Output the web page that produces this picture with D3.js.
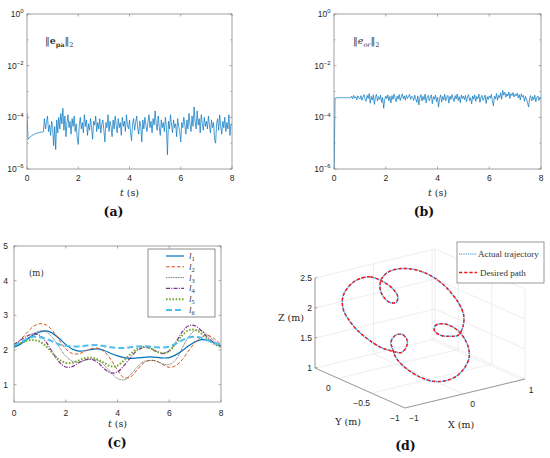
<!DOCTYPE html>
<html><head><meta charset="utf-8">
<script src="https://cdn.jsdelivr.net/npm/d3@7"></script>
<style>body{margin:0;background:#fff}svg{display:block}</style>
</head><body>
<svg id="fig" width="550" height="458"></svg>
<script>
// ================= DATA =================
// (a),(b): error norms, sampled every 0.04 s from 0 to 8 s (values are log10 of the norm)
const sampleStep = 0.04;
const epaLog10 = [
-3.85,-4.85,-4.80,-4.76,-4.73,-4.70,-4.68,-4.66,-4.64,-4.62,-4.61,-4.60,-4.59,-4.58,-4.57,-4.57,-4.56,
-4.05,-4.45,-4.20,-3.95,-4.55,-4.30,-4.70,-4.15,-4.40,
-5.10,-4.35,-5.25,-4.10,-4.60,-4.00,-4.45,-3.85,-4.25,-3.65,-4.50,-3.95,-4.75,-4.20,-3.90,-4.40,-4.15,-4.65,-4.05,-4.35,-3.95,-4.55,-4.25,-4.80,-5.05,
-4.30,-4.00,-4.45,-4.20,-4.60,-3.90,-4.35,-4.10,-4.70,-4.25,-4.50,-4.05,-4.40,-4.85,-4.15,-4.30,-3.95,-4.55,-4.20,-4.45,-4.05,-4.60,-4.25,-4.10,-4.50,
-4.95,-4.20,-4.40,-3.90,-4.55,-4.15,-4.35,-4.75,-4.10,-4.45,-3.95,-4.30,-4.60,-4.05,-4.40,-4.20,-4.70,-4.00,-4.35,-4.15,-4.55,-3.90,-4.30,-4.45,-4.10,
-4.60,-4.90,-4.25,-4.05,-4.50,-4.20,-3.95,-4.40,-4.65,-4.15,-4.35,-4.95,-4.10,-4.45,-4.00,-4.30,-4.55,-4.20,-3.90,-4.40,-4.15,-4.60,-4.05,-4.30,-3.75,
-4.25,-4.50,-3.95,-4.35,-4.70,-4.10,-4.40,-4.20,-4.55,-4.00,-4.35,-5.45,-4.15,-4.45,-3.90,-4.30,-4.60,-4.10,-4.40,-4.25,-4.75,-4.05,-4.35,-4.55,-4.95,
-4.20,-4.40,-4.00,-4.30,-4.65,-4.10,-4.45,-3.85,-4.25,-4.55,-3.95,-4.35,-3.60,-4.15,-4.45,-3.75,-4.30,-4.05,-4.60,-3.90,-4.25,-4.50,-4.00,-4.35,-4.15,
-4.45,-3.95,-4.30,-4.60,-4.10,-4.40,-4.20,-4.85,-5.00,-4.25,-4.05,-4.50,-3.90,-4.35,-4.65,-4.15,-4.40,-4.00,-4.55,-4.20,-4.45,-3.90,-4.70,-4.25,-4.30
];
const eorLog10 = [
-6.50,-3.26,-3.25,-3.25,-3.24,-3.24,-3.24,-3.24,-3.24,-3.24,-3.24,-3.24,-3.24,-3.24,-3.24,-3.24,-3.24,
-3.18,-3.28,-3.15,-3.26,-3.20,-3.32,-3.17,-3.25,-3.29,
-3.16,-3.34,-3.21,-3.12,-3.30,-3.38,-3.15,-3.27,-3.08,-3.45,-3.19,-3.33,-3.13,-3.50,-3.22,-3.11,-3.37,-3.20,-3.31,-3.14,-3.42,-3.24,-3.65,-3.30,-3.17,
-3.28,-3.13,-3.36,-3.19,-3.44,-3.16,-3.31,-3.10,-3.26,-3.40,-3.18,-3.30,-3.12,-3.35,-3.21,-3.09,-3.29,-3.17,-3.34,-3.14,-3.27,-3.20,-3.11,-3.31,-3.18,
-3.22,-3.35,-3.14,-3.28,-3.42,-3.17,-3.52,-3.25,-3.12,-3.37,-3.19,-3.32,-3.10,-3.44,-3.21,-3.15,-3.36,-3.23,-3.13,-3.47,-3.20,-3.30,-3.14,-3.39,-3.22,
-3.60,-3.27,-3.13,-3.41,-3.19,-3.33,-3.11,-3.36,-3.22,-3.15,-3.45,-3.18,-3.31,-3.12,-3.26,-3.39,-3.16,-3.29,-3.10,-3.35,-3.20,-3.43,-3.14,-3.27,-3.18,
-3.32,-3.15,-3.40,-3.21,-3.12,-3.36,-3.24,-3.48,-3.17,-3.30,-3.13,-3.38,-3.19,-3.28,-3.10,-3.42,-3.22,-3.15,-3.34,-3.25,-3.14,-3.46,-3.20,-3.31,-3.17,
-3.26,-3.12,-3.37,-3.55,-3.18,-3.29,-3.08,-3.34,-3.15,-3.24,-3.05,-3.30,-2.96,-3.14,-3.03,-3.22,-3.09,-3.18,-3.02,-3.27,-3.08,-3.16,-3.04,-3.21,-3.11,
-3.17,-3.06,-3.25,-3.12,-3.33,-3.09,-3.21,-3.15,-3.38,-3.19,-3.29,-3.44,-3.60,-3.26,-3.16,-3.37,-3.20,-3.32,-3.14,-3.40,-3.23,-3.17,-3.35,-3.22,-3.30
];
const logTickExps = [0, -2, -4, -6];
const timeTicks = [0, 2, 4, 6, 8];

// (c): cable lengths (m), sampled every 0.25 s
const cableTime = [0,0.25,0.5,0.75,1,1.25,1.5,1.75,2,2.25,2.5,2.75,3,3.25,3.5,3.75,4,4.25,4.5,4.75,5,5.25,5.5,5.75,6,6.25,6.5,6.75,7,7.25,7.5,7.75,8];
const l1 = [2.08,2.17,2.30,2.43,2.52,2.55,2.48,2.33,2.16,2.03,1.97,1.98,2.02,2.03,1.98,1.90,1.83,1.78,1.76,1.77,1.79,1.80,1.79,1.77,1.78,1.86,1.98,2.12,2.24,2.30,2.28,2.20,2.12];
const l2 = [2.13,2.30,2.50,2.68,2.76,2.72,2.55,2.28,2.03,1.90,1.89,1.97,2.04,2.05,1.95,1.72,1.42,1.20,1.22,1.42,1.62,1.70,1.68,1.58,1.50,1.55,1.72,1.98,2.22,2.38,2.42,2.32,2.15];
const l3 = [2.10,2.20,2.33,2.47,2.55,2.52,2.35,2.08,1.82,1.68,1.65,1.70,1.74,1.70,1.55,1.35,1.18,1.14,1.28,1.50,1.66,1.70,1.68,1.60,1.58,1.72,2.05,2.38,2.56,2.55,2.42,2.25,2.13];
const l4 = [2.16,2.28,2.40,2.47,2.42,2.22,1.92,1.65,1.51,1.52,1.63,1.72,1.73,1.63,1.45,1.34,1.37,1.55,1.78,1.98,2.07,2.05,1.96,1.90,1.98,2.22,2.52,2.70,2.70,2.55,2.35,2.20,2.10];
const l5 = [2.12,2.20,2.27,2.29,2.24,2.10,1.90,1.72,1.63,1.63,1.70,1.77,1.78,1.72,1.62,1.53,1.55,1.70,1.88,2.03,2.09,2.06,1.96,1.90,1.97,2.18,2.42,2.57,2.58,2.47,2.30,2.17,2.08];
const l6 = [2.13,2.22,2.32,2.38,2.37,2.32,2.24,2.16,2.12,2.10,2.10,2.12,2.14,2.14,2.11,2.08,2.06,2.06,2.08,2.10,2.11,2.10,2.08,2.07,2.10,2.18,2.28,2.36,2.38,2.35,2.27,2.20,2.14];
const cableNames = ["1","2","3","4","5","6"];
const lengthTicks = [1, 2, 3, 4, 5];

// (d): planar path, in-plane coordinates u, v (m) along the closed trajectory
const pathU = [-0.49,-0.60,-0.74,-0.88,-1.00,-1.06,-1.04,-0.95,-0.81,-0.63,-0.43,-0.29,
 -0.18,-0.08,0.00,0.02,-0.06,-0.17,-0.25,-0.22,
 -0.17,-0.07,0.08,0.26,0.46,0.65,0.83,0.97,1.05,1.04,0.98,0.91,
 0.79,0.62,0.49,0.47,0.57,0.73,0.87,0.95,
 0.96,0.89,0.77,0.61,0.41,0.19,-0.03,-0.23,-0.35,-0.42,
 -0.43,-0.37,-0.26,-0.16,-0.14,-0.23,-0.35];
const pathV = [0.77,0.80,0.78,0.71,0.58,0.43,0.24,0.08,-0.09,-0.24,-0.37,-0.42,
 -0.45,-0.46,-0.38,-0.26,-0.16,-0.17,-0.28,-0.41,
 -0.54,-0.66,-0.78,-0.88,-0.94,-0.93,-0.86,-0.72,-0.55,-0.38,-0.24,-0.14,
 -0.04,0.02,-0.01,-0.09,-0.17,-0.19,-0.17,-0.02,
 0.16,0.34,0.51,0.68,0.82,0.91,0.94,0.91,0.84,0.74,
 0.59,0.46,0.37,0.38,0.48,0.61,0.70];
const pathCentre = [-0.185, -0.30, 1.847];   // X, Y, Z of the path plane origin
const pathAxisU  = [0.733, -0.257, -0.046];
const pathAxisV  = [0.600, 0.526, 0.600];
const xTicks3 = [-1, 0, 1], yTicks3 = [0, -0.5, -1], zTicks3 = [1, 1.5, 2, 2.5];
const xDom3 = [-1, 1.05], yDom3 = [-1, 0.35], zDom3 = [1, 2.5];

// ================= DRAWING =================
const svg = d3.select('#fig');
const SANS = '"Liberation Sans", Arial, sans-serif';
const SERIF = '"DejaVu Serif", serif';
const SERIF2 = '"Liberation Serif", "Times New Roman", serif';
const AX = '#7a7a7a', TXT = '#262626';
const BLUE = '#0072bd';

function frame(g, p){
  g.append('rect').attr('x',p.x0).attr('y',p.y0).attr('width',p.x1-p.x0).attr('height',p.y1-p.y0)
   .attr('fill','none').attr('stroke',AX).attr('stroke-width',0.7);
}
function xAxis(g, p, xs, ticks, labelDy){
  ticks.forEach(t=>{
    const x = xs(t);
    g.append('line').attr('x1',x).attr('x2',x).attr('y1',p.y1).attr('y2',p.y1-2.5).attr('stroke',AX).attr('stroke-width',0.6);
    g.append('line').attr('x1',x).attr('x2',x).attr('y1',p.y0).attr('y2',p.y0+2.5).attr('stroke',AX).attr('stroke-width',0.6);
    g.append('text').attr('x',x).attr('y',p.y1+labelDy).attr('text-anchor','middle')
     .attr('font-family',SANS).attr('font-size',8.5).attr('fill',TXT).text(t);
  });
}
function yTickMarks(g, p, y, len){
  g.append('line').attr('x1',p.x0).attr('x2',p.x0+len).attr('y1',y).attr('y2',y).attr('stroke',AX).attr('stroke-width',0.6);
  g.append('line').attr('x1',p.x1).attr('x2',p.x1-len).attr('y1',y).attr('y2',y).attr('stroke',AX).attr('stroke-width',0.6);
}
function tLabel(g, x, y){
  const t = g.append('text').attr('x',x).attr('y',y).attr('text-anchor','middle')
    .attr('font-family',SERIF).attr('font-size',9.5).attr('fill',TXT);
  t.append('tspan').attr('font-style','italic').text('t');
  t.append('tspan').text(' (s)');
}
function panelLabel(x, y, s){
  svg.append('text').attr('x',x).attr('y',y).attr('text-anchor','middle')
    .attr('font-family',SERIF).attr('font-weight','bold').attr('font-size',12.5).attr('fill','#111').text(s);
}

// ---- log panels (a) and (b)
function logPanel(p, vals, clipId, annX, ann){
  const g = svg.append('g');
  const xs = d3.scaleLinear([0,8],[p.x0,p.x1]);
  const ys = d3.scaleLog([1e-6,1],[p.y1,p.y0]);
  g.append('clipPath').attr('id',clipId).append('rect')
   .attr('x',p.x0).attr('y',p.y0).attr('width',p.x1-p.x0).attr('height',p.y1-p.y0);
  const line = d3.line().x((d,i)=>xs(i*sampleStep)).y(d=>ys(Math.pow(10,d)));
  g.append('path').attr('d',line(vals)).attr('fill','none').attr('stroke',BLUE)
   .attr('stroke-width',0.7).attr('stroke-linejoin','round').attr('clip-path',`url(#${clipId})`);
  frame(g,p);
  xAxis(g,p,xs,timeTicks,11.5);
  d3.range(-6,1).forEach(e=>yTickMarks(g,p,ys(Math.pow(10,e)), logTickExps.includes(e)?2.5:1.5));
  logTickExps.forEach(e=>{
    const y = ys(Math.pow(10,e));
    const t = g.append('text').attr('x',p.x0-3.5).attr('y',y+3).attr('text-anchor','end')
      .attr('font-family',SANS).attr('font-size',8.5).attr('fill',TXT);
    t.append('tspan').text('10');
    t.append('tspan').attr('dy',-3.6).attr('font-size',6).text(e===0?'0':'\u2212'+(-e));
  });
  tLabel(g,(p.x0+p.x1)/2,196);
  // annotation
  const a = g.append('text').attr('x',annX).attr('y',44).attr('font-family',SERIF).attr('font-size',9.5).attr('fill','#333');
  a.append('tspan').text('\u2016');
  ann(a);
  a.append('tspan').attr('dy',-2.5).text('\u2016');
  a.append('tspan').attr('dy',2.5).attr('font-size',6.5).text('2');
}
logPanel({x0:27,x1:232,y0:14,y1:169}, epaLog10, 'clipA', 45, a=>{
  a.append('tspan').attr('font-weight','bold').text('e');
  a.append('tspan').attr('dy',2.5).attr('font-size',6.5).attr('font-weight','bold').text('pa');
});
logPanel({x0:334,x1:541,y0:14,y1:169}, eorLog10, 'clipB', 353, a=>{
  a.append('tspan').attr('font-style','italic').text('e');
  a.append('tspan').attr('dy',2.5).attr('font-size',6.5).attr('font-style','italic').text('or');
});
panelLabel(113.5,216,'(a)');
panelLabel(424,216,'(b)');

// ---- panel (c)
(function(){
  const p = {x0:14,x1:221,y0:246,y1:402};
  const g = svg.append('g');
  const xs = d3.scaleLinear([0,8],[p.x0,p.x1]);
  const ys = d3.scaleLinear([0.5,5],[p.y1,p.y0]);
  g.append('clipPath').attr('id','clipC').append('rect')
   .attr('x',p.x0).attr('y',p.y0).attr('width',p.x1-p.x0).attr('height',p.y1-p.y0);
  const styles = [
    {data:l1, color:'#0072bd', w:1.2, dash:null},
    {data:l2, color:'#d95319', w:1.0, dash:'3.5,2'},
    {data:l3, color:'#44524f', w:0.8, dash:'1,0.7'},
    {data:l4, color:'#7e2f8e', w:1.2, dash:'4,1.3,1,1.3'},
    {data:l5, color:'#77ac30', w:2.0, dash:'1.6,1.6'},
    {data:l6, color:'#4dbeee', w:2.0, dash:'6,3'}
  ];
  const line = d3.line().x((d,i)=>xs(cableTime[i])).y(d=>ys(d)).curve(d3.curveCatmullRom);
  styles.forEach(s=>{
    g.append('path').attr('d',line(s.data)).attr('fill','none').attr('stroke',s.color)
     .attr('stroke-width',s.w).attr('stroke-dasharray',s.dash).attr('clip-path','url(#clipC)');
  });
  frame(g,p);
  xAxis(g,p,xs,timeTicks,14);
  lengthTicks.forEach(v=>{
    const y = ys(v);
    yTickMarks(g,p,y,2.5);
    g.append('text').attr('x',p.x0-6).attr('y',y+3).attr('text-anchor','end')
     .attr('font-family',SANS).attr('font-size',8.5).attr('fill',TXT).text(v);
  });
  tLabel(g,(p.x0+p.x1)/2,427);
  g.append('text').attr('x',29).attr('y',276).attr('font-family',SERIF).attr('font-size',8.5).attr('fill','#333').text('(m)');
  // legend
  const lg = g.append('g');
  lg.append('rect').attr('x',148).attr('y',249).attr('width',67).attr('height',68)
    .attr('fill','#fff').attr('stroke','#444').attr('stroke-width',0.6);
  styles.forEach((s,i)=>{
    const y = 256 + i*10.8;
    lg.append('line').attr('x1',166).attr('x2',184).attr('y1',y).attr('y2',y)
      .attr('stroke',s.color).attr('stroke-width',s.w).attr('stroke-dasharray',s.dash);
    const t = lg.append('text').attr('x',189).attr('y',y+3).attr('font-family',SERIF2).attr('font-size',9).attr('fill','#333');
    t.append('tspan').attr('font-style','italic').text('l');
    t.append('tspan').attr('dy',2).attr('font-size',6.5).text(cableNames[i]);
  });
})();
panelLabel(117,447,'(c)');

// ---- panel (d) 3-D view
(function(){
  const g = svg.append('g');
  const X3 = d3.scaleLinear(xDom3,[0,1]), Y3 = d3.scaleLinear(yDom3,[0,1]), Z3 = d3.scaleLinear(zDom3,[0,1]);
  const O = [405,408], vX = [120,-29], vY = [-90,-40], vZ = [0,-90];
  const P = (x,y,z)=>[O[0]+X3(x)*vX[0]+Y3(y)*vY[0]+Z3(z)*vZ[0], O[1]+X3(x)*vX[1]+Y3(y)*vY[1]+Z3(z)*vZ[1]];
  const seg = (a,b,col,w)=>g.append('line').attr('x1',a[0]).attr('y1',a[1]).attr('x2',b[0]).attr('y2',b[1])
      .attr('stroke',col).attr('stroke-width',w);
  const GRID = '#e2e2e2';
  const [xa,xb] = xDom3, [ya,yb] = yDom3, [za,zb] = zDom3;
  // back-left wall (Y = max)
  xTicks3.filter(x=>x>xa).forEach(x=>seg(P(x,yb,za),P(x,yb,zb),GRID,0.6));
  zTicks3.forEach(z=>seg(P(xa,yb,z),P(xb,yb,z),GRID,0.6));
  // back-right wall (X = max)
  yTicks3.forEach(y=>seg(P(xb,y,za),P(xb,y,zb),GRID,0.6));
  seg(P(xb,yb,za),P(xb,yb,zb),GRID,0.6);
  zTicks3.forEach(z=>seg(P(xb,yb,z),P(xb,ya,z),GRID,0.6));
  // floor
  xTicks3.filter(x=>x>xa).forEach(x=>seg(P(x,ya,za),P(x,yb,za),GRID,0.6));
  yTicks3.filter(y=>y>ya).forEach(y=>seg(P(xa,y,za),P(xb,y,za),GRID,0.6));
  // axes
  seg(P(xa,yb,za),P(xa,yb,zb),AX,0.8);
  seg(P(xa,yb,za),P(xa,ya,za),AX,0.8);
  seg(P(xa,ya,za),P(xb,ya,za),AX,0.8);
  // tick labels
  zTicks3.forEach(z=>{
    const q = P(xa,yb,z);
    seg(q,[q[0]+2.5,q[1]-0.6],AX,0.6);
    g.append('text').attr('x',q[0]-3).attr('y',q[1]+3).attr('text-anchor','end')
     .attr('font-family',SANS).attr('font-size',8.5).attr('fill',TXT).text(z);
  });
  yTicks3.forEach(y=>{
    const q = P(xa,y,za);
    g.append('text').attr('x',q[0]-10).attr('y',q[1]+13).attr('text-anchor','middle')
     .attr('font-family',SANS).attr('font-size',8.5).attr('fill',TXT).text(y<0?'\u2212'+(-y):y);
  });
  xTicks3.forEach(x=>{
    const q = P(x,ya,za);
    g.append('text').attr('x',q[0]+9).attr('y',q[1]+13).attr('text-anchor','middle')
     .attr('font-family',SANS).attr('font-size',8.5).attr('fill',TXT).text(x<0?'\u2212'+(-x):x);
  });
  const lab = (x,y,s,anchor)=>g.append('text').attr('x',x).attr('y',y).attr('text-anchor',anchor)
     .attr('font-family',SERIF).attr('font-size',9.5).attr('fill',TXT).text(s);
  lab(278,321,'Z (m)','start');
  lab(348,425,'Y (m)','middle');
  lab(461,428,'X (m)','middle');
  // path
  const pts = pathU.map((u,i)=>{
    const v = pathV[i];
    const X = pathCentre[0]+u*pathAxisU[0]+v*pathAxisV[0];
    const Y = pathCentre[1]+u*pathAxisU[1]+v*pathAxisV[1];
    const Z = pathCentre[2]+u*pathAxisU[2]+v*pathAxisV[2];
    return P(X,Y,Z);
  });
  const line = d3.line().curve(d3.curveCatmullRomClosed.alpha(0.5));
  g.append('path').attr('d',line(pts)).attr('fill','none').attr('stroke','#3a9be6')
   .attr('stroke-width',1.5).attr('stroke-dasharray','1.3,0.7');
  g.append('path').attr('d',line(pts)).attr('fill','none').attr('stroke','#ff1010')
   .attr('stroke-width',1.4).attr('stroke-dasharray','3,2.3');
  // legend
  g.append('rect').attr('x',457).attr('y',242).attr('width',87).attr('height',41)
   .attr('fill','#fff').attr('stroke','#555').attr('stroke-width',0.6);
  g.append('line').attr('x1',459).attr('x2',477).attr('y1',254).attr('y2',254)
   .attr('stroke','#2f8fdc').attr('stroke-width',1.2).attr('stroke-dasharray','1,0.8');
  g.append('line').attr('x1',459).attr('x2',477).attr('y1',272.5).attr('y2',272.5)
   .attr('stroke','#ff1010').attr('stroke-width',1.4).attr('stroke-dasharray','3.2,2');
  g.append('text').attr('x',478).attr('y',257).attr('font-family',SERIF2).attr('font-size',9).attr('fill','#333').text('Actual trajectory');
  g.append('text').attr('x',480).attr('y',275.5).attr('font-family',SERIF2).attr('font-size',9).attr('fill','#333').text('Desired path');
})();
panelLabel(405.5,450,'(d)');
</script>
</body></html>
